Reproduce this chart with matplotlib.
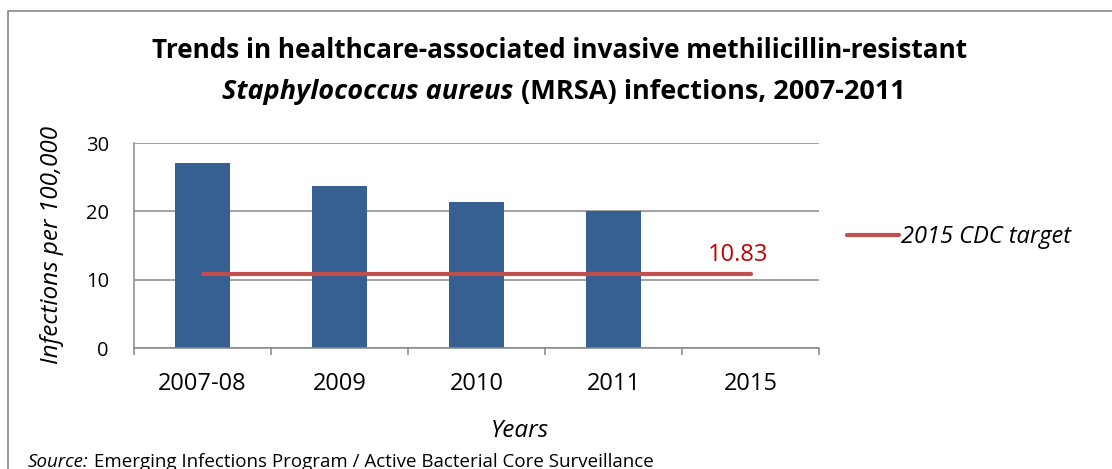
import matplotlib
matplotlib.use("Agg")
import matplotlib.pyplot as plt
from matplotlib.patches import Rectangle

plt.rcParams['font.family'] = ['Open Sans', 'DejaVu Sans']

years = ['2007-08', '2009', '2010', '2011', '2015']
rates = [27.1, 23.7, 21.4, 20.1]
target = 10.83
target_label = '2015 CDC target'

W, H = 1112, 469
fig = plt.figure(figsize=(W / 100, H / 100), dpi=100)

# outer chart frame, clipped at right and bottom like the source
fig.patches.append(Rectangle((8 / W, -0.1), 1.2, (H - 11) / H + 0.1,
                             transform=fig.transFigure, fill=False,
                             edgecolor='#878787', lw=1.2))

ax = fig.add_axes([134 / W, (H - 348) / H, 685 / W, 205 / H])

x = list(range(len(years)))
ax.bar(x[:len(rates)], rates, width=0.4, color='#366092', zorder=2)
ax.plot([x[0], x[-1]], [target, target], color='#C0504D', lw=3.0,
        solid_capstyle='round', zorder=3, label=target_label)
ax.annotate(f'{target:.2f}', (x[-1], target), xytext=(-12, 19),
            textcoords='offset pixels', ha='center', va='center',
            color='#C00000', fontsize=17)

ax.set_xlim(-0.5, 4.5)
ax.set_ylim(0, 30)
ax.set_yticks([0, 10, 20, 30])
ax.yaxis.grid(True, color='#878787', lw=1.1, zorder=0)
ax.set_axisbelow(True)
ax.tick_params(axis='y', length=0, pad=18, labelsize=14.5)
ax.set_xticks(x)
ax.set_xticklabels(years)
ax.tick_params(axis='x', which='major', length=0, pad=17, labelsize=17)
ax.set_xticks([i - 0.5 for i in range(len(years) + 1)], minor=True)
ax.tick_params(axis='x', which='minor', length=5, width=1.1, color='#878787')
for s in ['top', 'right']:
    ax.spines[s].set_visible(False)
for s in ['left', 'bottom']:
    ax.spines[s].set_color('#878787')
    ax.spines[s].set_linewidth(1.1)

ax.legend(loc='center left', bbox_to_anchor=(847 / W, (H - 237) / H),
          bbox_transform=fig.transFigure, frameon=False,
          handlelength=2.2, handletextpad=0.1, borderpad=0, borderaxespad=0,
          prop={'style': 'italic', 'size': 17})

fig.text(52 / W, (H - 245) / H, 'Infections per 100,000', rotation=90,
         ha='center', va='center', style='italic', fontsize=17.5)
fig.text(520 / W, (H - 431) / H, 'Years', ha='center', va='center',
         style='italic', fontsize=17.5)


def run_text(pieces, x0, y, ha='left', **kw):
    # draw consecutive text pieces with different styles on one line
    fig.canvas.draw()
    r = fig.canvas.get_renderer()
    arts = []
    for txt, st in pieces:
        a = fig.text(0, y, txt, va='center', **st, **kw)
        arts.append(a)
    widths = [a.get_window_extent(r).width for a in arts]
    total = sum(widths)
    start = x0 - total / 2 if ha == 'center' else x0
    for a, w in zip(arts, widths):
        a.set_x(start / W)
        start += w


run_text([('Trends in healthcare-associated invasive methilicillin-resistant',
           {'weight': 'bold'})], 560, (H - 51) / H, ha='center', fontsize=18.8)
run_text([('Staphylococcus aureus', {'weight': 'bold', 'style': 'italic'}),
          (' (MRSA) infections, 2007-2011', {'weight': 'bold'})],
         564, (H - 92) / H, ha='center', fontsize=19.5)
run_text([('Source:', {'style': 'italic'}),
          (' Emerging Infections Program / Active Bacterial Core Surveillance', {})],
         28, (H - 462) / H, fontsize=13.5)

fig.savefig('out.png', dpi=100)
